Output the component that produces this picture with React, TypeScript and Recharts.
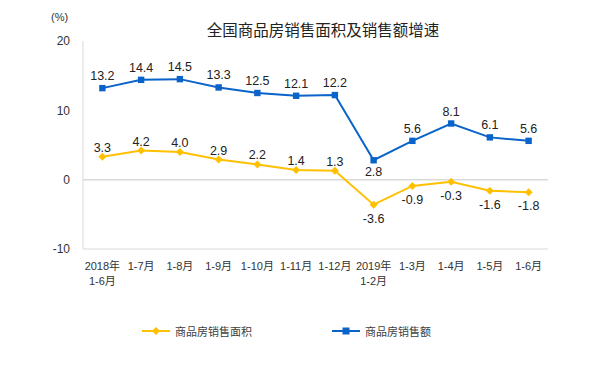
import React from 'react';
import { ComposedChart, Line, XAxis, YAxis, ReferenceLine, LabelList, Legend } from 'recharts';

const categories = ['2018年\n1-6月', '1-7月', '1-8月', '1-9月', '1-10月', '1-11月', '1-12月', '2019年\n1-2月', '1-3月', '1-4月', '1-5月', '1-6月'];
const areaGrowth = [3.3, 4.2, 4.0, 2.9, 2.2, 1.4, 1.3, -3.6, -0.9, -0.3, -1.6, -1.8];
const amountGrowth = [13.2, 14.4, 14.5, 13.3, 12.5, 12.1, 12.2, 2.8, 5.6, 8.1, 6.1, 5.6];
const yTicks = [-10, 0, 10, 20];
const amountLabelsBelow = ['2019年\n1-2月'];

const seriesNames = { area: '商品房销售面积', amount: '商品房销售额' };
const title = '全国商品房销售面积及销售额增速';
const unit = '(%)';

const data = categories.map((c, i) => ({ cat: c, area: areaGrowth[i], amount: amountGrowth[i] }));

const YELLOW = '#FFC000';
const BLUE = '#0A63C9';
const GRID = '#d9d9d9';
const FONT = "'Liberation Sans', Arial, 'Noto Sans CJK SC', sans-serif";

const Diamond = (props: any) => {
  const { cx, cy } = props;
  if (cx == null || cy == null) return null;
  const r = 4;
  return <path d={`M${cx},${cy - r}L${cx + r},${cy}L${cx},${cy + r}L${cx - r},${cy}Z`} fill={YELLOW} stroke="none" />;
};
const Square = (props: any) => {
  const { cx, cy } = props;
  if (cx == null || cy == null) return null;
  return <rect x={cx - 3.2} y={cy - 3.2} width={6.4} height={6.4} fill={BLUE} stroke="none" />;
};

const XTick = (props: any) => {
  const { x, y, payload } = props;
  const lines = String(payload.value).split('\n');
  return (
    <text x={x} y={y} textAnchor="middle" fontSize={11} fill="#333" fontFamily={FONT}>
      {lines.map((l, i) => (
        <tspan key={i} x={x} dy={i === 0 ? '0.35em' : 15}>{l}</tspan>
      ))}
    </text>
  );
};

const areaLabel = (props: any) => {
  const { x, y, value } = props;
  const below = value < 0;
  return (
    <text x={x} y={below ? y + 14 : y - 9} textAnchor="middle" dominantBaseline="central" fontSize={12.5} fill="#222" fontFamily={FONT}>
      {Number(value).toFixed(1)}
    </text>
  );
};
const amountLabel = (props: any) => {
  const { x, y, value, index } = props;
  const below = amountLabelsBelow.includes(categories[index]);
  return (
    <text x={x} y={below ? y + 12 : y - 12} textAnchor="middle" dominantBaseline="central" fontSize={12.5} fill="#222" fontFamily={FONT}>
      {Number(value).toFixed(1)}
    </text>
  );
};

const LegendContent = () => (
  <div style={{ display: 'flex', alignItems: 'center', fontFamily: FONT, fontSize: 11, color: '#404040' }}>
    <svg width={30} height={10} style={{ marginRight: 3 }}>
      <line x1={0} y1={5} x2={28} y2={5} stroke={YELLOW} strokeWidth={2} />
      <path d="M14,1L18,5L14,9L10,5Z" fill={YELLOW} />
    </svg>
    <span style={{ marginRight: 80 }}>{seriesNames.area}</span>
    <svg width={30} height={10} style={{ marginRight: 3 }}>
      <line x1={0} y1={5} x2={28} y2={5} stroke={BLUE} strokeWidth={2} />
      <rect x={10.5} y={1.5} width={7} height={7} fill={BLUE} />
    </svg>
    <span>{seriesNames.amount}</span>
  </div>
);

export default function App() {
  return (
    <div style={{ position: 'relative', width: 600, height: 377, fontFamily: FONT }}>
      <div style={{ position: 'absolute', left: 0, width: 630, top: 10, textAlign: 'center', fontSize: 15.5, color: '#222', zIndex: 2 }}>{title}</div>
      <div style={{ position: 'absolute', left: 43, top: 3, fontSize: 11, color: '#333', zIndex: 2 }}>{unit}</div>
      <ComposedChart width={600} height={377} data={data} margin={{ top: 33, right: 60, bottom: 96, left: 0 }}>
        <XAxis xAxisId="b" dataKey="cat" scale="band" interval={0} axisLine={{ stroke: GRID }} tickLine={false} tickSize={0} tickMargin={17} height={40} tick={<XTick />} />
        <XAxis xAxisId="t" dataKey="cat" scale="band" orientation="top" axisLine={{ stroke: GRID }} tick={false} tickLine={false} height={0} />
        <YAxis yAxisId="l" domain={[-10, 20]} ticks={yTicks} axisLine={{ stroke: GRID }} tickLine={false} tickSize={0} tickMargin={13} width={75} tick={{ fontSize: 12, fill: '#333', fontFamily: FONT }} />
        <YAxis yAxisId="r" orientation="right" domain={[-10, 20]} ticks={yTicks} axisLine={{ stroke: GRID }} tick={false} tickLine={false} width={0} />
        <ReferenceLine y={0} xAxisId="b" yAxisId="l" stroke={GRID} strokeWidth={1.5} />
        <Legend layout="horizontal" verticalAlign="middle" align="center" content={<LegendContent />} wrapperStyle={{ top: 315, left: 134, width: 'auto' }} />
        <Line xAxisId="b" yAxisId="l" type="linear" dataKey="amount" stroke={BLUE} strokeWidth={2} dot={<Square />} activeDot={false} isAnimationActive={false}>
          <LabelList dataKey="amount" content={amountLabel} />
        </Line>
        <Line xAxisId="b" yAxisId="l" type="linear" dataKey="area" stroke={YELLOW} strokeWidth={2} dot={<Diamond />} activeDot={false} isAnimationActive={false}>
          <LabelList dataKey="area" content={areaLabel} />
        </Line>
      </ComposedChart>
    </div>
  );
}
